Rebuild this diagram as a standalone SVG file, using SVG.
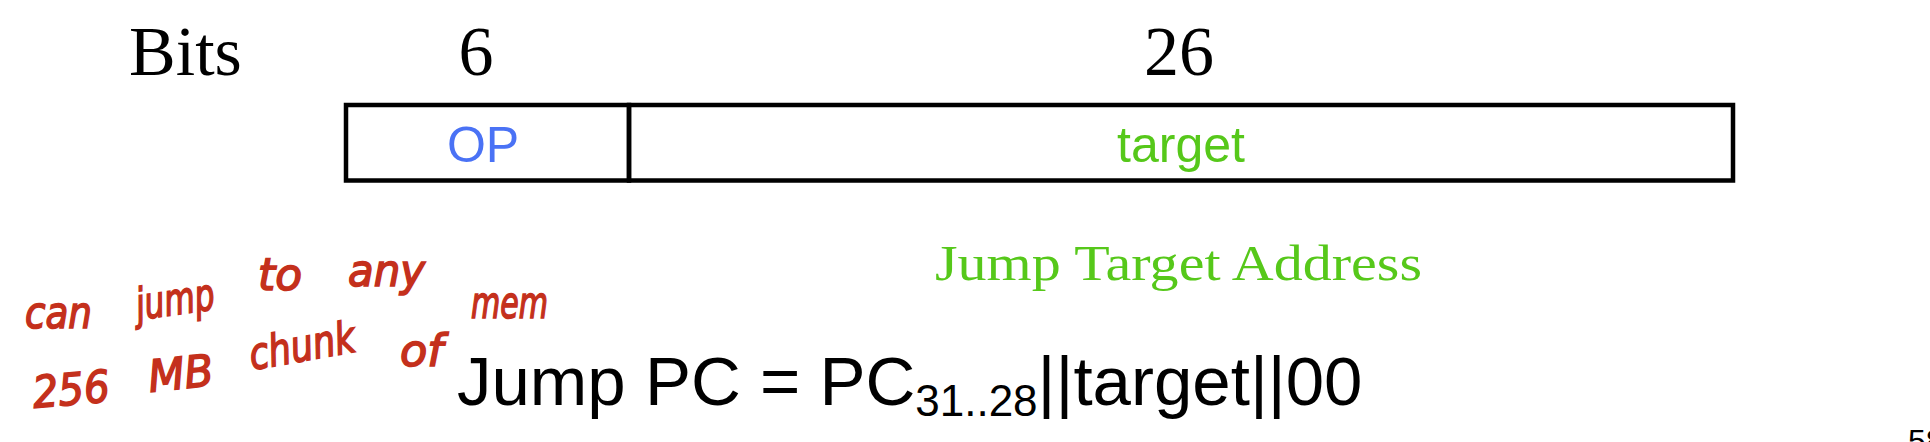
<svg xmlns="http://www.w3.org/2000/svg" width="1930" height="442" viewBox="0 0 1930 442">
<style>
.serif{font-family:"Liberation Serif","Times New Roman",serif;}
.sans{font-family:"Liberation Sans",Arial,sans-serif;}
.hand{font-family:"DejaVu Sans","Liberation Sans",sans-serif;font-style:italic;fill:#c4301c;stroke:#c4301c;stroke-width:1.6;font-size:44px;}
.box{fill:none;stroke:#000;stroke-width:4.5;}
</style>
<rect width="1930" height="442" fill="#fff"/>
<g id="header">
<text class="serif" x="129" y="75" font-size="70" fill="#000">Bits</text>
<text class="serif" x="476" y="75" font-size="70" fill="#000" text-anchor="middle">6</text>
<text class="serif" x="1179" y="75" font-size="70" fill="#000" text-anchor="middle">26</text>
</g>
<g id="op-field">
<rect class="box" x="346" y="105" width="283" height="75.5"/>
<text class="sans" x="483" y="162" font-size="50" fill="#4a72f5" text-anchor="middle">OP</text>
</g>
<g id="target-field">
<rect class="box" x="629" y="105" width="1104" height="75.5"/>
<text class="sans" x="1181" y="162" font-size="50" fill="#56c81a" text-anchor="middle">target</text>
</g>
<g id="connectors"></g>
<g id="jump-target-label">
<text class="serif" x="935" y="280" font-size="50" fill="#56c81a" textLength="487" lengthAdjust="spacingAndGlyphs">Jump Target Address</text>
</g>
<g id="formula">
<text class="sans" x="457" y="405" font-size="69" fill="#000">Jump PC = PC<tspan font-size="44" dy="11">31..28</tspan><tspan dy="-11">||target||00</tspan></text>
</g>
<g id="annotation">
<text class="hand" x="25" y="328" textLength="67" lengthAdjust="spacingAndGlyphs">can</text>
<text class="hand" x="138" y="320" textLength="79" lengthAdjust="spacingAndGlyphs" transform="rotate(-8 138 320)">jump</text>
<text class="hand" x="258" y="290" textLength="44" lengthAdjust="spacingAndGlyphs">to</text>
<text class="hand" x="348" y="286" textLength="77" lengthAdjust="spacingAndGlyphs">any</text>
<text class="hand" x="34" y="408" font-size="50" textLength="77" lengthAdjust="spacingAndGlyphs" transform="rotate(-5 34 408)">256</text>
<text class="hand" x="150" y="392" font-size="50" textLength="65" lengthAdjust="spacingAndGlyphs" transform="rotate(-6 150 392)">MB</text>
<text class="hand" x="252" y="370" textLength="107" lengthAdjust="spacingAndGlyphs" transform="rotate(-10 252 370)">chunk</text>
<text class="hand" x="400" y="366" font-size="52" textLength="43" lengthAdjust="spacingAndGlyphs">of</text>
<text class="hand" x="471" y="318" textLength="77" lengthAdjust="spacingAndGlyphs">mem</text>
</g>
<g id="page-number">
<text class="sans" x="1908" y="452" font-size="32" fill="#000">58</text>
</g>
</svg>
